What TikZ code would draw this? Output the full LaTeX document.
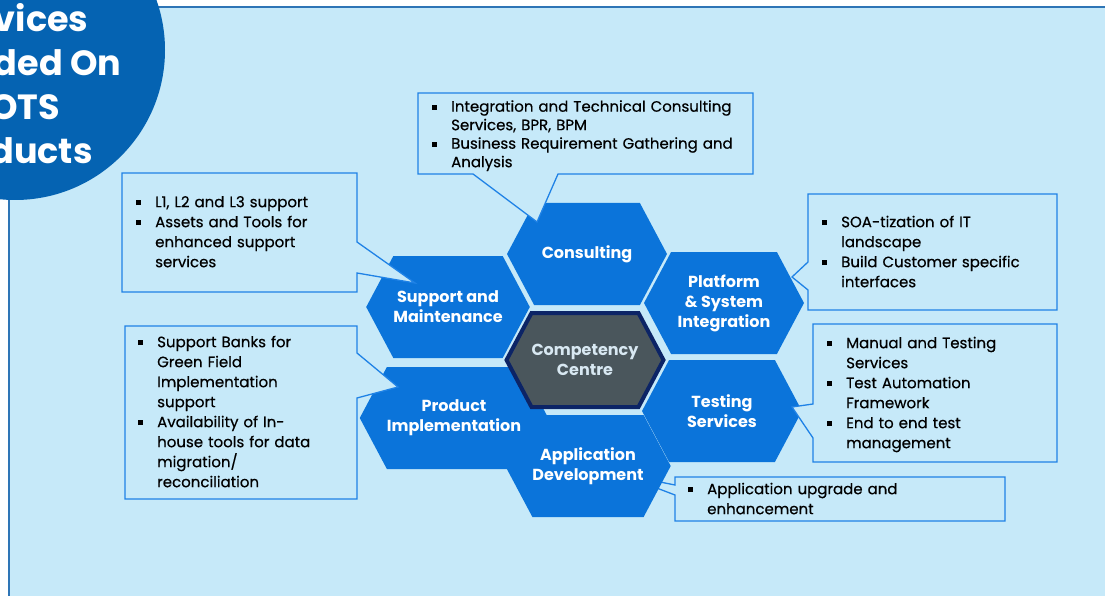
\documentclass[tikz,border=0pt]{standalone}
\usepackage{fontspec}
\setmainfont{Poppins}
\newfontfamily\notefont[FakeBold=0.5]{Poppins}
\usetikzlibrary{shapes.symbols,positioning}
\definecolor{panel}{HTML}{C6E9F9}
\definecolor{frameblue}{HTML}{2E75B6}
\definecolor{noteblue}{HTML}{1F82E6}
\definecolor{hexblue}{HTML}{0B74DA}
\definecolor{discblue}{HTML}{0563B2}
\definecolor{coregray}{HTML}{4A565C}
\definecolor{corenavy}{HTML}{0C2466}
\definecolor{coretext}{HTML}{D8E8F2}
\newcommand{\sqitem}[1]{\par\hangindent=19pt\hangafter=1\noindent
  \makebox[19pt][l]{\rule[2pt]{5pt}{5pt}}{\let\\\newline #1}\par}

\begin{document}
\begin{tikzpicture}[x=1pt, y=-1pt,
    hexa/.style = {shape=signal, signal to=east and west,
        signal pointer angle=124, fill=hexblue, text=white, align=center,
        font=\bfseries\fontsize{16}{20}\selectfont, inner sep=0pt,
        minimum width=160pt, minimum height=102pt},
    note/.style = {draw=noteblue, line width=1.3pt, fill=panel},
    notetext/.style = {anchor=north west, inner sep=0pt, text width=330pt,
        font=\notefont\fontsize{15}{20}\selectfont\raggedright}]

  \useasboundingbox (0,0) rectangle (1105,596);
  \clip (0,0) rectangle (1105,596);
  \fill[white] (0,0) rectangle (1105,596);
  \filldraw[fill=panel, draw=frameblue, line width=2pt] (9,7) rectangle (1120,610);

  % callout under the hexagons
  \draw[note] (675,477) -- (1005,477) -- (1005,521) -- (675,521) -- (675,495)
    -- (620,474) -- (675,485) -- cycle;

  % honeycomb
  \node [hexa] (consult) at (587,254) {Consulting};
  \node [hexa] (support) at (448,307) {Support and\\Maintenance};
  \node [hexa] (product) at (454,418) {Product\\Implementation};
  \node [hexa] (appdev) at (588,466) {Application\\Development};
  \node [hexa] (platform) at (724,303) {Platform\\\& System\\Integration};
  \node [hexa] (testing) at (722,411) {Testing\\Services};
  \node [hexa, fill=coregray, draw=corenavy, line width=4pt, text=coretext,
    minimum width=152pt, minimum height=94pt] (core) at (585,360) {Competency\\Centre};

  % callouts over the hexagons
  \draw[note] (418,93) -- (753,93) -- (753,174) -- (558,174) -- (537,222)
    -- (473,174) -- (418,174) -- cycle;
  \draw[note] (122,173) -- (357,173) -- (357,242) -- (415,283) -- (357,273)
    -- (357,292) -- (122,292) -- cycle;
  \draw[note] (125,326) -- (357,326) -- (357,353) -- (398,387) -- (357,398)
    -- (357,499) -- (125,499) -- cycle;
  \draw[note] (808,194) -- (1057,194) -- (1057,310) -- (808,310) -- (808,290)
    -- (792,277) -- (808,262) -- cycle;
  \draw[note] (813,324) -- (1057,324) -- (1057,462) -- (813,462) -- (813,438)
    -- (792,407) -- (813,404) -- cycle;

  \node [notetext, font=\notefont\fontsize{15}{18.5}\selectfont\raggedright]
    (consnote) at (432,93)
    {\sqitem{Integration and Technical Consulting\\Services, BPR, BPM}%
     \sqitem{Business Requirement Gathering and\\Analysis}};
  \node [notetext] (suppnote) at (136,187)
    {\sqitem{L1, L2 and L3 support}%
     \sqitem{Assets and Tools for\\enhanced support\\services}};
  \node [notetext] (prodnote) at (138,327)
    {\sqitem{Support Banks for\\Green Field\\Implementation\\support}%
     \sqitem{Availability of In-\\house tools for data\\migration/\\reconciliation}};
  \node [notetext] (platnote) at (822,207)
    {\sqitem{SOA-tization of IT\\landscape}%
     \sqitem{Build Customer specific\\interfaces}};
  \node [notetext] (testnote) at (827,328)
    {\sqitem{Manual and Testing\\Services}%
     \sqitem{Test Automation\\Framework}%
     \sqitem{End to end test\\management}};
  \node [notetext] (appnote) at (688,474)
    {\sqitem{Application upgrade and\\enhancement}};

  % title disc
  \node [circle, fill=discblue, minimum size=300pt, inner sep=0pt] (disc) at (15,50) {};
  \node [text=white, align=center, font=\bfseries\fontsize{35}{44}\selectfont]
    (title) at (12,84) {Services\\Provided On\\COTS\\Products};
\end{tikzpicture}
\end{document}
